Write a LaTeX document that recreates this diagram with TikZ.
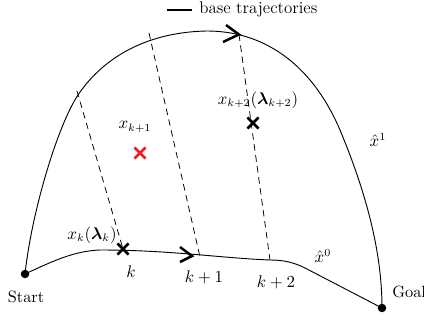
\documentclass[tikz,border=0pt]{standalone}
\usepackage{amsmath}
\usetikzlibrary{shapes.misc}
\definecolor{xred}{RGB}{235,30,35}
\begin{document}
\begin{tikzpicture}[x=0.65pt,y=-0.65pt,
  traj/.style={line width=0.6pt},
  dsh/.style={line width=0.5pt,dash pattern=on 4.2pt off 3pt},
  chev/.style={line width=1.6pt,line join=miter,line cap=butt},
  xmark/.style={cross out,draw,line width=1.7pt,minimum size=5.5pt,inner sep=0pt},
  dot/.style={circle,fill=black,inner sep=0pt,minimum size=5.5pt},
  lbl/.style={inner sep=0pt,font=\fontsize{10.6}{12}\selectfont}]
\useasboundingbox (0,0) rectangle (424,320);
% end points
\node[dot] (start) at (25,274) {};
\node[dot] (goal) at (382,308) {};
\node[lbl] (startl) at (26,297) {Start};
\node[lbl,anchor=west] (goall) at (392,292) {Goal};
% trajectories
\draw[traj] (start.center) .. controls (32,210) and (58,125) .. (78,95)
  .. controls (105,55) and (150,32) .. (207,31)
  .. controls (260,31) and (310,60) .. (340,130)
  .. controls (365,190) and (382,250) .. (goal.center);
\draw[traj] (start.center) .. controls (55,260) and (75,251) .. (100,250)
  .. controls (170,250) and (220,258) .. (270,260)
  .. controls (285,260) and (295,263) .. (305,268) -- (goal.center);
% chevrons
\coordinate (ta) at (239,34.5);
\coordinate (ba) at (192,256);
\draw[chev] (226,25) -- (ta) -- (223,42);
\draw[chev] (180,247) -- (ba) -- (180,262);
% dashed lines
\coordinate (t1) at (77,91);
\coordinate (t2) at (149,33);
\coordinate (b2) at (200,257);
\coordinate (b3) at (270,260);
\node[xmark] (xk) at (123,249) {};
\node[xmark,draw=xred] (xk1) at (140,153) {};
\node[xmark] (xk2) at (253,123) {};
\draw[dsh] (t1) -- (xk.center);
\draw[dsh] (t2) -- (b2);
\draw[dsh] (ta) -- (b3);
% labels
\node[lbl] (lxk) at (92,235) {$x_k(\boldsymbol{\lambda}_k)$};
\node[lbl] (lxk1) at (135,127) {$x_{k+1}$};
\node[lbl] (lxk2) at (258,100) {$x_{k+2}(\boldsymbol{\lambda}_{k+2})$};
\node[lbl] (lk) at (131,272) {$k$};
\node[lbl] (lk1) at (204,277) {$k+1$};
\node[lbl] (lk2) at (276,282) {$k+2$};
\node[lbl] (lx0) at (323,256) {$\hat{x}^0$};
\node[lbl] (lx1) at (378,140) {$\hat{x}^1$};
% legend
\coordinate (lega) at (167,10);
\coordinate (legb) at (192,10);
\draw[line width=1.3pt] (lega) -- (legb);
\node[lbl,anchor=west,font=\fontsize{11}{13}\selectfont] (legt) at (199,9) {base trajectories};
\end{tikzpicture}
\end{document}
